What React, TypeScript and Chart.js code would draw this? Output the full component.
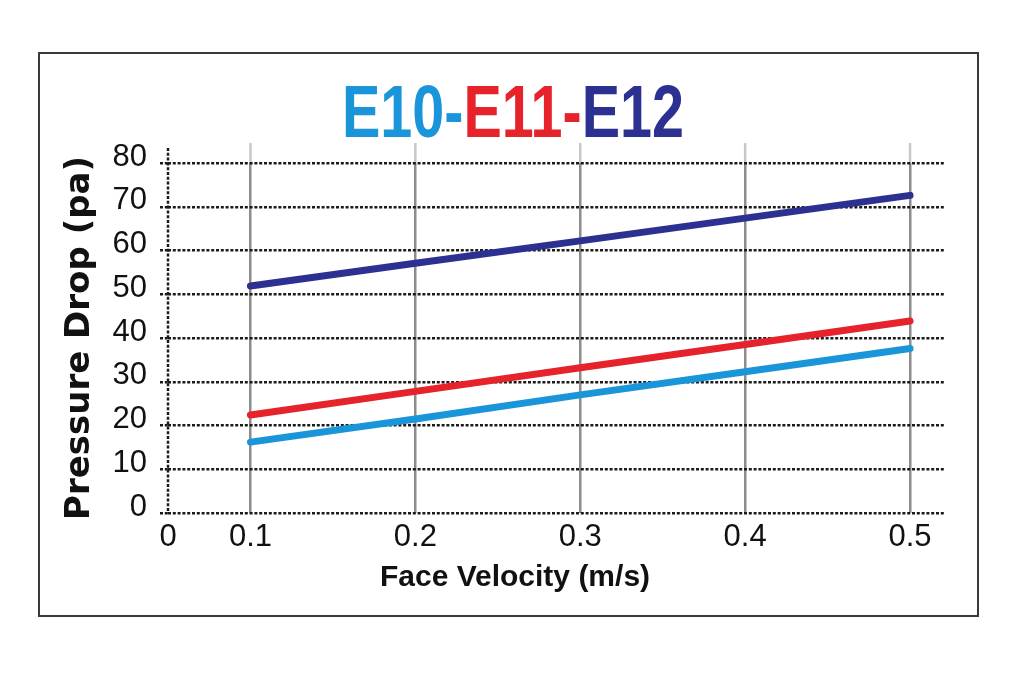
import React, { useEffect, useRef } from "react";
import { Chart, registerables } from "chart.js";

Chart.register(...registerables);

// ---- data ----
const titleParts = ["E10-", "E11-", "E12"];
const titleColors = ["#1b95d9", "#e6222a", "#2c3090"];
const seriesNames = ["E10", "E11", "E12"];
const velocities = [0.1, 0.2, 0.3, 0.4, 0.5];
const e10Values = [16.2, 21.5, 27.0, 32.3, 37.6];
const e11Values = [22.4, 27.8, 33.2, 38.5, 43.9];
const e12Values = [51.9, 57.1, 62.2, 67.4, 72.6];
const xTickValues = [0.05, 0.1, 0.2, 0.3, 0.4, 0.5];
const xTickLabels = ["0", "0.1", "0.2", "0.3", "0.4", "0.5"];
const yTickValues = [0, 10, 20, 30, 40, 50, 60, 70, 80];
const xAxisTitle = "Face Velocity (m/s)";
const yAxisTitle = "Pressure Drop (pa)";

const SANS = '"Liberation Sans", Arial, sans-serif';
const DOT = [3, 1.8];

const framePlugin = {
  id: "frame",
  beforeDraw(chart: any) {
    const ctx = chart.ctx;
    ctx.save();
    ctx.fillStyle = "#ffffff";
    ctx.fillRect(0, 0, chart.width, chart.height);
    ctx.strokeStyle = "#3a3a3a";
    ctx.lineWidth = 2;
    ctx.strokeRect(39, 53, 939, 563);
    // extensions of the vertical grid above the plot
    const xs = chart.scales.x;
    const area = chart.chartArea;
    ctx.strokeStyle = "#c8c8c8";
    ctx.lineWidth = 2.5;
    xTickValues.forEach((v, i) => {
      if (i === 0) return;
      const px = xs.getPixelForValue(v);
      ctx.beginPath();
      ctx.moveTo(px, area.top - 20);
      ctx.lineTo(px, area.top);
      ctx.stroke();
    });
    ctx.restore();
  },
  beforeDatasetsDraw(chart: any) {
    const ctx = chart.ctx;
    const area = chart.chartArea;
    const xs = chart.scales.x;
    const px = Math.round(xs.getPixelForValue(xTickValues[0]));
    ctx.save();
    ctx.strokeStyle = "#1a1a1a";
    ctx.lineWidth = 2.5;
    ctx.setLineDash(DOT);
    ctx.beginPath();
    ctx.moveTo(px, area.top - 15);
    ctx.lineTo(px, area.bottom);
    ctx.stroke();
    ctx.restore();
  },
  afterDraw(chart: any) {
    const ctx = chart.ctx;
    ctx.save();
    // main multi-coloured title
    ctx.font = `bold 75px ${SANS}`;
    ctx.textBaseline = "alphabetic";
    ctx.textAlign = "left";
    const widths = titleParts.map((t) => ctx.measureText(t).width);
    const total = widths.reduce((a, b) => a + b, 0);
    const targetW = 342;
    const sx = Math.min(1, targetW / total);
    const cx = 513;
    ctx.translate(cx - (total * sx) / 2, 137);
    ctx.scale(sx, 1);
    let x = 0;
    titleParts.forEach((t, i) => {
      ctx.fillStyle = titleColors[i];
      ctx.fillText(t, x, 0);
      x += widths[i];
    });
    ctx.restore();
    // x axis title
    ctx.save();
    ctx.font = `bold 30px ${SANS}`;
    ctx.fillStyle = "#111";
    ctx.textAlign = "center";
    ctx.textBaseline = "alphabetic";
    ctx.fillText(xAxisTitle, 515, 586);
    ctx.restore();
  },
};

export default function App() {
  const ref = useRef<HTMLCanvasElement | null>(null);

  useEffect(() => {
    if (!ref.current) return;
    const mkPts = (vals: number[]) => velocities.map((v, i) => ({ x: v, y: vals[i] }));
    const seriesValues = [e10Values, e11Values, e12Values];
    const chart = new Chart(ref.current, {
      type: "line",
      data: {
        datasets: seriesNames.map((name, i) => ({
          label: name,
          data: mkPts(seriesValues[i]),
          borderColor: titleColors[i],
          backgroundColor: titleColors[i],
          borderWidth: 7,
          borderCapStyle: "round",
          pointRadius: 0,
          tension: 0,
        })),
      },
      options: {
        animation: false,
        responsive: false,
        devicePixelRatio: 1,
        layout: { padding: { top: 163, right: 79, left: 0, bottom: 0 } },
        plugins: {
          legend: { display: false },
          tooltip: { enabled: false },
          title: { display: false },
        },
        scales: {
          x: {
            type: "linear",
            min: 0.05,
            max: 0.5212,
            afterFit: (s: any) => {
              s.height = 169;
            },
            afterBuildTicks: (s: any) => {
              s.ticks = xTickValues.map((v) => ({ value: v }));
            },
            ticks: {
              autoSkip: false,
              maxRotation: 0,
              padding: 6,
              color: "#111",
              font: { family: SANS, size: 31 },
              callback: (value: any) => {
                const idx = xTickValues.findIndex((t) => Math.abs(t - Number(value)) < 1e-6);
                return idx >= 0 ? xTickLabels[idx] : "";
              },
            },
            grid: {
              drawTicks: false,
              lineWidth: 2.5,
              color: (c: any) =>
                c.tick && Math.abs(c.tick.value - 0.05) < 1e-6 ? "rgba(0,0,0,0)" : "#8c8c8c",
            },
            border: { display: false, dash: [] },
          },
          y: {
            min: 0,
            max: 80,
            afterFit: (s: any) => {
              s.width = 168;
            },
            afterBuildTicks: (s: any) => {
              s.ticks = yTickValues.map((v) => ({ value: v }));
            },
            ticks: {
              autoSkip: false,
              padding: 13,
              labelOffset: -6,
              color: "#111",
              font: { family: SANS, size: 31 },
            },
            grid: {
              color: "#1a1a1a",
              lineWidth: 2.5,
              tickLength: 8,
              tickColor: "#1a1a1a",
              tickWidth: 2.5,
              tickBorderDash: DOT,
            },
            border: { display: false, color: "#1a1a1a", width: 2, dash: DOT },
            title: {
              display: true,
              text: yAxisTitle,
              color: "#111",
              font: { family: '"DejaVu Sans", sans-serif', size: 34, weight: "bold" },
              padding: { top: 60, bottom: 0 },
            },
          },
        },
      },
      plugins: [framePlugin],
    } as any);
    return () => chart.destroy();
  }, []);

  return (
    <div style={{ position: "fixed", left: 0, top: 0, width: 1024, height: 682, background: "#fff" }}>
      <canvas ref={ref} width={1024} height={682} style={{ width: 1024, height: 682 }} />
    </div>
  );
}
